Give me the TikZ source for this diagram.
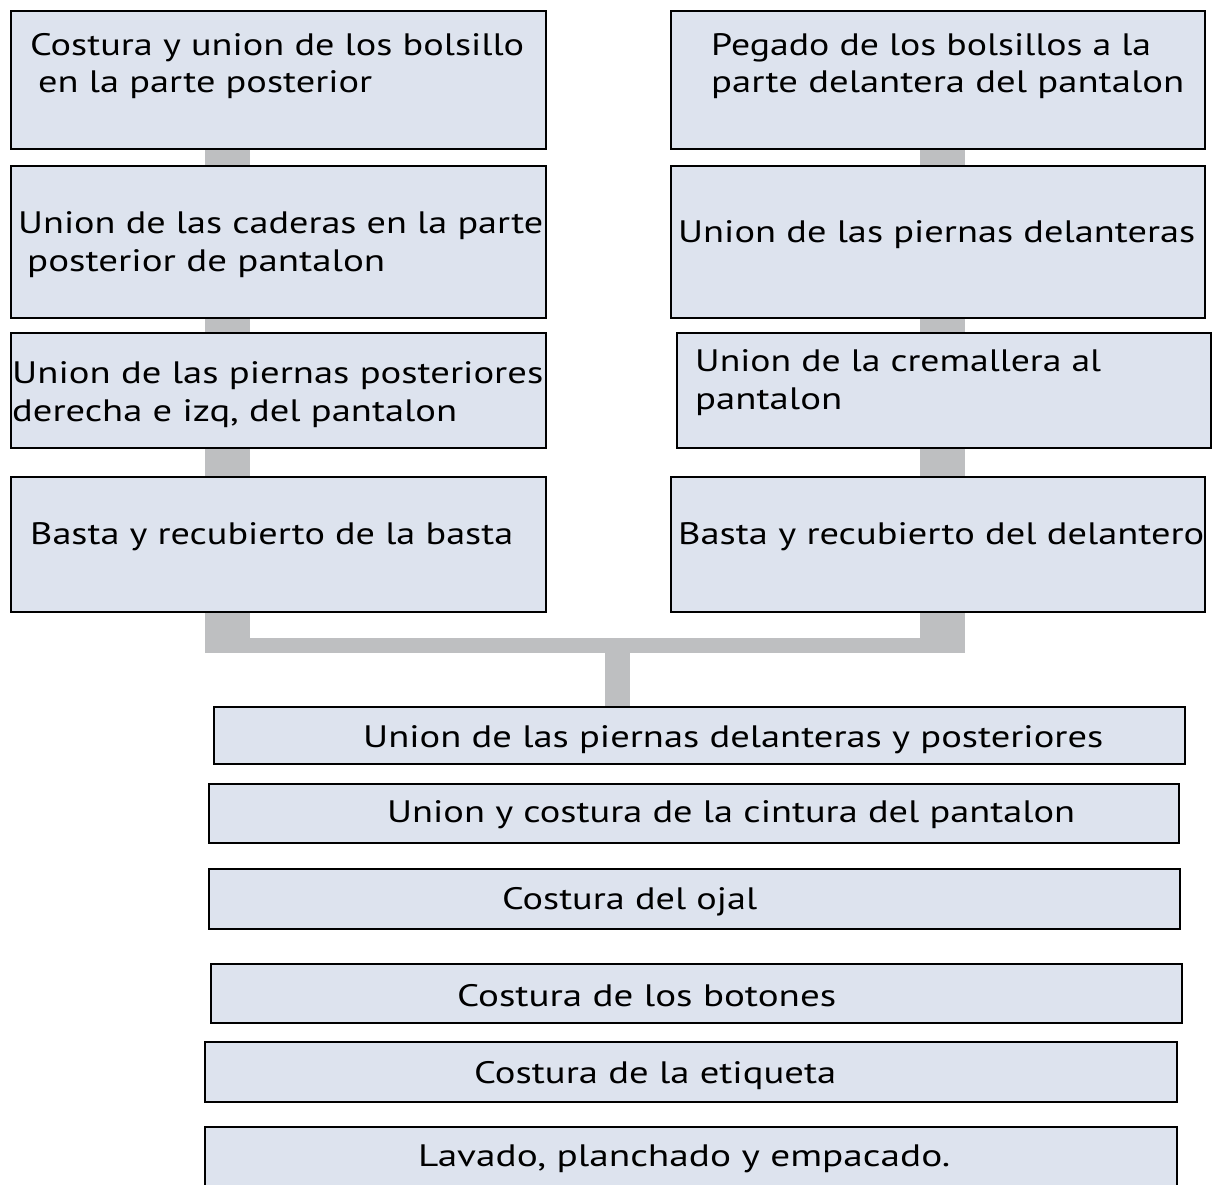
\documentclass[tikz,border=0pt]{standalone}
\usepackage{fontspec}
\setmainfont{PT Sans}
\usetikzlibrary{backgrounds}
\definecolor{boxfill}{RGB}{221,227,238}
\definecolor{barcol}{RGB}{190,191,193}
\newcommand\fitw[2]{\resizebox{#1pt}{\height}{#2}}
\begin{document}
\begin{tikzpicture}[x=1pt,y=-1pt,
  box/.style={draw=black, line width=2pt, fill=boxfill, rectangle, inner sep=0pt, anchor=north west},
  lbl/.style={anchor=base west, inner sep=0pt, font=\fontsize{31}{37}\selectfont},
  bar/.style={draw=barcol, line cap=butt}]
\useasboundingbox (0,0) rectangle (1217,1184);
% boxes left column
\node[box, minimum width=535pt, minimum height=138pt] (L1) at (10,10) {};
\node[box, minimum width=535pt, minimum height=152pt] (L2) at (10,165) {};
\node[box, minimum width=535pt, minimum height=115pt] (L3) at (10,332) {};
\node[box, minimum width=535pt, minimum height=135pt] (L4) at (10,476) {};
% right column
\node[box, minimum width=534pt, minimum height=138pt] (R1) at (670,10) {};
\node[box, minimum width=534pt, minimum height=152pt] (R2) at (670,165) {};
\node[box, minimum width=534pt, minimum height=115pt] (R3) at (676,332) {};
\node[box, minimum width=534pt, minimum height=135pt] (R4) at (670,476) {};
% bottom column
\node[box, minimum width=971pt, minimum height=57pt] (B1) at (213,706) {};
\node[box, minimum width=970pt, minimum height=59pt] (B2) at (208,783) {};
\node[box, minimum width=971pt, minimum height=60pt] (B3) at (208,868) {};
\node[box, minimum width=971pt, minimum height=59pt] (B4) at (210,963) {};
\node[box, minimum width=972pt, minimum height=60pt] (B5) at (204,1041) {};
\node[box, minimum width=972pt, minimum height=66pt] (B6) at (204,1126) {};
% connectors
\coordinate (jl) at (227.5,653);
\coordinate (jr) at (942.5,653);
\coordinate (jc) at (617.5,653);
\begin{scope}[on background layer]
\draw[bar, line width=45pt] (L1.south -| jl) -- (jl);
\draw[bar, line width=45pt] (R1.south -| jr) -- (jr);
\draw[bar, line width=15pt] ([xshift=-22.5pt,yshift=7.5pt]jl) -- ([xshift=22.5pt,yshift=7.5pt]jr);
\draw[bar, line width=25pt] (jc) -- (B1.north -| jc);
\end{scope}
% labels
\node[lbl] (L1a) at (30,55) {\fitw{494}{Costura y union de los bolsillo}};
\node[lbl] (L1b) at (38,92) {\fitw{334}{en la parte posterior}};
\node[lbl] (L2a) at (18,233) {\fitw{525}{Union de las caderas en la parte}};
\node[lbl] (L2b) at (27,271) {\fitw{358}{posterior de pantalon}};
\node[lbl] (L3a) at (12,383) {\fitw{531}{Union de las piernas posteriores}};
\node[lbl] (L3b) at (12,421) {\fitw{445}{derecha e izq, del pantalon}};
\node[lbl] (L4a) at (30,544) {\fitw{483}{Basta y recubierto de la basta}};
\node[lbl] (R1a) at (711,55) {\fitw{440}{Pegado de los bolsillos a la}};
\node[lbl] (R1b) at (711,92) {\fitw{473}{parte delantera del pantalon}};
\node[lbl] (R2a) at (678,242) {\fitw{517}{Union de las piernas delanteras}};
\node[lbl] (R3a) at (695,371) {\fitw{406}{Union de la cremallera al}};
\node[lbl] (R3b) at (695,409) {\fitw{147}{pantalon}};
\node[lbl] (R4a) at (678,544) {\fitw{526}{Basta y recubierto del delantero}};
\node[lbl] (B1a) at (363,747) {\fitw{740}{Union de las piernas delanteras y posteriores}};
\node[lbl] (B2a) at (387,822) {\fitw{688}{Union y costura de la cintura del pantalon}};
\node[lbl] (B3a) at (502,909) {\fitw{255}{Costura del ojal}};
\node[lbl] (B4a) at (457,1006) {\fitw{379}{Costura de los botones}};
\node[lbl] (B5a) at (474,1083) {\fitw{362}{Costura de la etiqueta}};
\node[lbl] (B6a) at (418,1166) {\fitw{532}{Lavado, planchado y empacado.}};
\end{tikzpicture}
\end{document}
